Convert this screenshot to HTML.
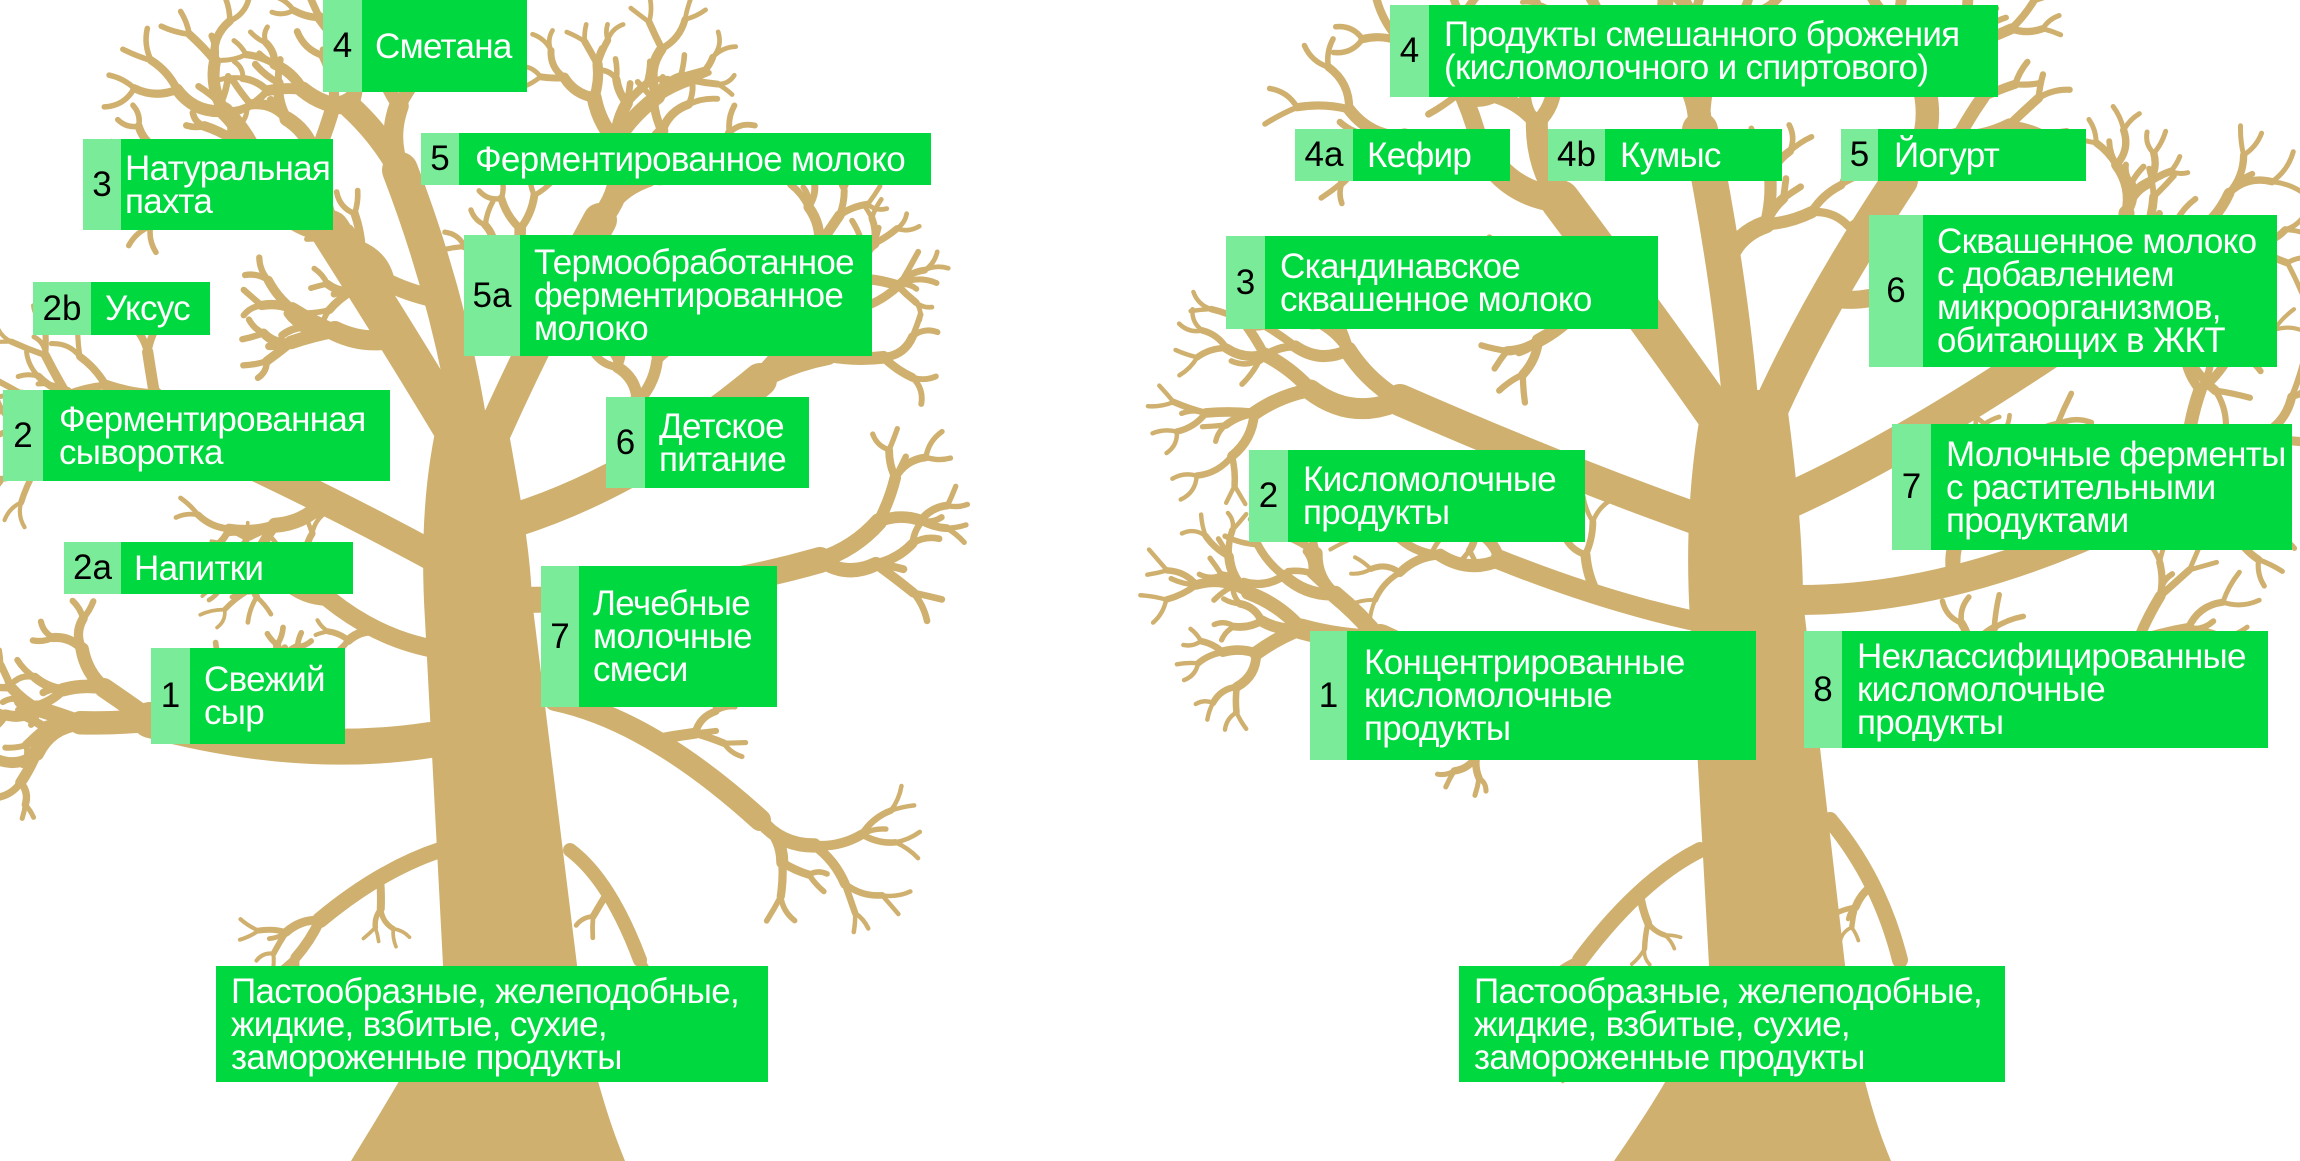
<!DOCTYPE html>
<html><head><meta charset="utf-8"><style>
html,body{margin:0;padding:0;background:#fff;}
#c{position:relative;width:2300px;height:1161px;overflow:hidden;background:#fff;}
svg{position:absolute;left:0;top:0;}
.b{position:absolute;background:#00d840;display:flex;align-items:center;box-sizing:border-box;}
.n{position:absolute;left:0;top:0;bottom:0;background:#7aeb98;display:flex;align-items:center;justify-content:center;color:#000;font:35px "Liberation Sans",sans-serif;}
.t{position:absolute;top:0;bottom:0;display:flex;align-items:center;color:#fff;font:35px/33px "Liberation Sans",sans-serif;letter-spacing:-0.7px;white-space:nowrap;}
</style></head><body><div id="c">
<svg id="s" width="2300" height="1161" viewBox="0 0 2300 1161">
<g fill="#cfb06e">
<path d="M351,1161 C400,1080 440,1020 443,965 L425,620 C420,540 425,470 440,410 L505,410 C515,470 530,540 532,600 L577,965 C580,1020 600,1100 625,1161 Z"/>
<path d="M1614,1161 C1670,1080 1705,1020 1709,965 L1690,620 C1685,540 1690,460 1705,390 L1785,390 C1795,460 1803,540 1803,600 L1845,965 C1850,1020 1865,1100 1891,1161 Z"/>
</g>
<g id="br" fill="none" stroke="#cfb06e" stroke-linecap="round"></g>
</svg>

<div class="b" style="left:323px;top:0;width:204px;height:92px"><div class="n" style="width:39px">4</div><div class="t" style="left:52px">Сметана</div></div>
<div class="b" style="left:83px;top:139px;width:250px;height:91px"><div class="n" style="width:38px">3</div><div class="t" style="left:42px">Натуральная<br>пахта</div></div>
<div class="b" style="left:421px;top:133px;width:510px;height:52px"><div class="n" style="width:38px">5</div><div class="t" style="left:54px">Ферментированное молоко</div></div>
<div class="b" style="left:464px;top:235px;width:408px;height:121px"><div class="n" style="width:56px">5a</div><div class="t" style="left:70px">Термообработанное<br>ферментированное<br>молоко</div></div>
<div class="b" style="left:33px;top:282px;width:177px;height:53px"><div class="n" style="width:58px">2b</div><div class="t" style="left:72px">Уксус</div></div>
<div class="b" style="left:3px;top:390px;width:387px;height:91px"><div class="n" style="width:40px">2</div><div class="t" style="left:56px">Ферментированная<br>сыворотка</div></div>
<div class="b" style="left:606px;top:397px;width:203px;height:91px"><div class="n" style="width:39px">6</div><div class="t" style="left:53px">Детское<br>питание</div></div>
<div class="b" style="left:64px;top:542px;width:289px;height:52px"><div class="n" style="width:57px">2a</div><div class="t" style="left:70px">Напитки</div></div>
<div class="b" style="left:541px;top:566px;width:236px;height:141px"><div class="n" style="width:38px">7</div><div class="t" style="left:52px">Лечебные<br>молочные<br>смеси</div></div>
<div class="b" style="left:151px;top:648px;width:194px;height:96px"><div class="n" style="width:39px">1</div><div class="t" style="left:53px">Свежий<br>сыр</div></div>
<div class="b" style="left:216px;top:966px;width:552px;height:116px"><div class="t" style="left:15px">Пастообразные, желеподобные,<br>жидкие, взбитые, сухие,<br>замороженные продукты</div></div>

<div class="b" style="left:1390px;top:5px;width:608px;height:92px"><div class="n" style="width:39px">4</div><div class="t" style="left:54px">Продукты смешанного брожения<br>(кисломолочного и спиртового)</div></div>
<div class="b" style="left:1295px;top:129px;width:215px;height:52px"><div class="n" style="width:58px">4a</div><div class="t" style="left:72px">Кефир</div></div>
<div class="b" style="left:1548px;top:129px;width:234px;height:52px"><div class="n" style="width:57px">4b</div><div class="t" style="left:72px">Кумыс</div></div>
<div class="b" style="left:1841px;top:129px;width:245px;height:52px"><div class="n" style="width:37px">5</div><div class="t" style="left:53px">Йогурт</div></div>
<div class="b" style="left:1226px;top:236px;width:432px;height:93px"><div class="n" style="width:39px">3</div><div class="t" style="left:54px">Скандинавское<br>сквашенное молоко</div></div>
<div class="b" style="left:1869px;top:215px;width:408px;height:152px"><div class="n" style="width:54px">6</div><div class="t" style="left:68px">Сквашенное молоко<br>с добавлением<br>микроорганизмов,<br>обитающих в ЖКТ</div></div>
<div class="b" style="left:1249px;top:450px;width:336px;height:92px"><div class="n" style="width:39px">2</div><div class="t" style="left:54px">Кисломолочные<br>продукты</div></div>
<div class="b" style="left:1892px;top:424px;width:400px;height:126px"><div class="n" style="width:39px">7</div><div class="t" style="left:54px">Молочные ферменты<br>с растительными<br>продуктами</div></div>
<div class="b" style="left:1310px;top:631px;width:446px;height:129px"><div class="n" style="width:37px">1</div><div class="t" style="left:54px">Концентрированные<br>кисломолочные<br>продукты</div></div>
<div class="b" style="left:1804px;top:631px;width:464px;height:117px"><div class="n" style="width:38px">8</div><div class="t" style="left:53px">Неклассифицированные<br>кисломолочные<br>продукты</div></div>
<div class="b" style="left:1459px;top:966px;width:546px;height:116px"><div class="t" style="left:15px">Пастообразные, желеподобные,<br>жидкие, взбитые, сухие,<br>замороженные продукты</div></div>
</div>
<script>
(function(){
var g=document.getElementById('br');var seed=7;
function r(){seed=(seed*16807)%2147483647;return seed/2147483647;}
function seg(x1,y1,cx,cy,x2,y2,w){var p=document.createElementNS('http://www.w3.org/2000/svg','path');
p.setAttribute('d','M'+x1+','+y1+' Q'+cx+','+cy+' '+x2+','+y2);p.setAttribute('stroke-width',w);g.appendChild(p);}
function br(x,y,a,len,w,d){if(d<=0||w<3)return;
var x2=x+Math.cos(a)*len,y2=y+Math.sin(a)*len;var o=(r()-0.5)*len*0.6;
var cx=(x+x2)/2-Math.sin(a)*o,cy=(y+y2)/2+Math.cos(a)*o;seg(x,y,cx,cy,x2,y2,w);
var s=0.35+r()*0.35;br(x2,y2,a-s,len*(0.6+r()*0.25),w*0.68,d-1);br(x2,y2,a+0.3+r()*0.35,len*(0.6+r()*0.25),w*0.68,d-1);
if(r()<0.45)br(x2,y2,a+(r()-0.5)*0.3,len*0.5,w*0.55,d-2);}
var L=[
[460,440,400,340,330,230,40,90,5],[470,430,450,300,400,170,36,80,5],[495,430,540,330,600,220,34,80,5],
[515,520,640,480,760,380,34,90,5],[520,600,680,600,820,560,26,70,4],[440,560,330,500,200,440,30,80,5],
[430,740,300,760,150,720,36,70,5],[555,700,650,720,760,820,22,60,4],[440,850,380,870,320,920,16,45,4],
[570,850,610,880,640,960,14,40,3],[440,650,380,640,330,600,18,50,4],
[1720,420,1650,320,1560,200,40,100,5],[1740,400,1730,280,1700,130,36,90,5],[1770,410,1820,300,1900,180,36,90,5],
[1790,500,1900,450,2050,350,36,100,5],[1800,600,1950,600,2120,520,30,90,5],[1700,520,1560,470,1400,400,32,90,5],
[1690,700,1550,720,1380,640,32,80,5],[1820,700,1950,720,2080,680,24,70,4],[1700,850,1640,880,1580,960,16,45,4],
[1830,820,1880,880,1900,960,16,40,4],[1690,620,1600,600,1500,560,20,60,4]];
L.forEach(function(l){seg(l[0],l[1],l[2],l[3],l[4],l[5],l[6]);
var a=Math.atan2(l[5]-l[3],l[4]-l[2]);br(l[4],l[5],a-0.3,l[7],l[6]*0.65,l[8]);br(l[4],l[5],a+0.35,l[7]*0.8,l[6]*0.55,l[8]-1);
var mx=(l[0]+2*l[2]+l[4])/4,my=(l[1]+2*l[3]+l[5])/4;br(mx,my,a+(r()<0.5?-0.9:0.9),l[7]*0.7,l[6]*0.5,l[8]-1);});
})();
</script>
</body></html>
